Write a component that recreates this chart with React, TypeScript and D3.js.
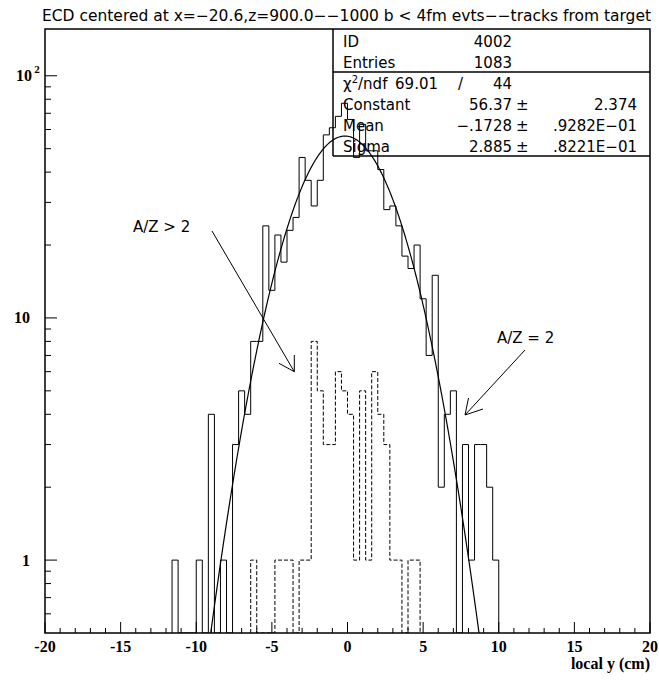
import React from 'react';
import * as d3 from 'd3';

// histogram bins: 0.4 cm wide, counts listed from the first filled bin
const binWidth = 0.4;
const solidStart = -11.6;
const solidCounts = [
  1, 0, 0, 0, 1, 0, 4, 0, 1, 0, 3, 5, 4, 8, 8, 24, 13, 22, 17, 23, 26, 46, 37, 29, 37, 57, 61, 68, 77,
  66, 46, 63, 49, 49, 41, 28, 29, 24, 18, 16, 20, 12, 7, 15, 2, 4, 5, 0, 3, 1, 3, 3, 2, 1,
];
const dashedStart = -6.4;
const dashedCounts = [
  1, 0, 0, 0, 1, 1, 1, 0, 1, 1, 8, 5, 3, 3, 6, 5, 4, 1, 5, 1, 6, 4, 3, 1, 1, 0, 1, 1,
];

// gaussian fit parameters (from the stats box)
const fitConstant = 56.37;
const fitMean = -0.1728;
const fitSigma = 2.885;

const xMajorTicks = [-20, -15, -10, -5, 0, 5, 10, 15, 20];
const statsRows = [
  { label: 'ID', value: '4002' },
  { label: 'Entries', value: '1083' },
];
const fitRows = [
  { label: 'Constant', value: '56.37', err: '2.374' },
  { label: 'Mean', value: '−.1728', err: '.9282E−01' },
  { label: 'Sigma', value: '2.885', err: '.8221E−01' },
];

const W = 659;
const H = 683;
const left = 45, right = 650, top = 29, bottom = 633;
const sans = '"DejaVu Sans", sans-serif';
const serif = '"Liberation Serif", "Times New Roman", serif';

function stepPath(start: number, counts: number[], x: any, y: any) {
  let d = `M${x(start)},${bottom}`;
  counts.forEach((c, i) => {
    const x0 = x(start + i * binWidth);
    const x1 = x(start + (i + 1) * binWidth);
    const yy = c > 0 ? y(c) : bottom;
    d += `L${x0},${yy}L${x1},${yy}`;
  });
  d += `L${x(start + counts.length * binWidth)},${bottom}`;
  return d;
}

export default function App() {
  const x = d3.scaleLinear().domain([-20, 20]).range([left, right]);
  const y = d3.scaleLog().domain([0.5, 156]).range([bottom, top]);

  const fitPts = d3.range(-20, 20.001, 0.05).map((v) => [
    v,
    fitConstant * Math.exp(-0.5 * ((v - fitMean) / fitSigma) ** 2),
  ]);
  const fitLine = d3
    .line<number[]>()
    .x((d) => x(d[0]))
    .y((d) => y(Math.max(d[1], 0.3)))(fitPts);

  const xMinor = d3.range(-20, 21, 1).filter((v) => v % 5 !== 0);
  const yMinor = [0.6, 0.7, 0.8, 0.9, 2, 3, 4, 5, 6, 7, 8, 9, 20, 30, 40, 50, 60, 70, 80, 90];
  const yMajor = [1, 10, 100];

  const boxL = 333, boxB = 156, boxDiv = 72;

  return (
    <svg width={W} height={H} style={{ position: 'absolute', left: 0, top: 0, background: '#fff' }}>
      <defs>
        <clipPath id="plotClip">
          <rect x={left} y={top} width={right - left} height={bottom - top} />
        </clipPath>
      </defs>

      <text x={42} y={20.5} fontFamily={sans} fontSize={15} textLength={609} lengthAdjust="spacingAndGlyphs">
        ECD centered at x=−20.6,z=900.0−−1000 b &lt; 4fm evts−−tracks from target
      </text>

      {/* histograms */}
      <g clipPath="url(#plotClip)" fill="none" stroke="#000" strokeWidth={1}>
        <path d={stepPath(solidStart, solidCounts, x, y)} />
        <path d={stepPath(dashedStart, dashedCounts, x, y)} strokeDasharray="4 2" />
        <path d={fitLine || ''} strokeWidth={1.2} />
      </g>

      {/* frame */}
      <rect x={left} y={top} width={right - left} height={bottom - top} fill="none" stroke="#000" strokeWidth={1.5} />

      {/* x ticks */}
      <g stroke="#000" strokeWidth={1}>
        {xMajorTicks.map((t) => (
          <line key={'xM' + t} x1={x(t)} x2={x(t)} y1={bottom} y2={bottom - 11} />
        ))}
        {xMinor.map((t) => (
          <line key={'xm' + t} x1={x(t)} x2={x(t)} y1={bottom} y2={bottom - 5} />
        ))}
        {yMajor.map((t) => (
          <line key={'yM' + t} x1={left} x2={left + 12} y1={y(t)} y2={y(t)} />
        ))}
        {yMinor.map((t) => (
          <line key={'ym' + t} x1={left} x2={left + 6} y1={y(t)} y2={y(t)} />
        ))}
      </g>

      <g fontFamily={serif} fontWeight="bold" fontSize={16} textAnchor="middle">
        {xMajorTicks.map((t) => (
          <text key={'xl' + t} x={x(t)} y={652}>
            {t}
          </text>
        ))}
        <text x={right} y={669} textAnchor="end">local y (cm)</text>
        <text x={30} y={y(1) + 5.5} textAnchor="end">1</text>
        <text x={30} y={y(10) + 5.5} textAnchor="end">10</text>
        <text x={32} y={y(100) + 5.5} textAnchor="end">10</text>
        <text x={37} y={y(100) - 3} fontSize={11}>2</text>
      </g>

      {/* stats box */}
      <g fill="none" stroke="#000" strokeWidth={1.5}>
        <line x1={boxL} x2={boxL} y1={top} y2={boxB} />
        <line x1={boxL} x2={right} y1={boxB} y2={boxB} />
        <line x1={boxL} x2={right} y1={boxDiv} y2={boxDiv} />
      </g>
      <g fontFamily={sans} fontSize={15} fill="#000">
        {statsRows.map((r, i) => (
          <g key={r.label}>
            <text x={343} y={46.5 + i * 21}>{r.label}</text>
            <text x={512} y={46.5 + i * 21} textAnchor="end">{r.value}</text>
          </g>
        ))}
        <text x={343} y={89}>
          χ<tspan dy={-6} fontSize={10}>2</tspan>
          <tspan dy={6}>/ndf</tspan>
        </text>
        <text x={438} y={89} textAnchor="end">69.01</text>
        <text x={458} y={89}>/</text>
        <text x={512} y={89} textAnchor="end">44</text>
        {fitRows.map((r, i) => (
          <g key={r.label}>
            <text x={343} y={110 + i * 21}>{r.label}</text>
            <text x={512} y={110 + i * 21} textAnchor="end">{r.value}</text>
            <text x={516} y={110 + i * 21}>±</text>
            <text x={637} y={110 + i * 21} textAnchor="end">{r.err}</text>
          </g>
        ))}
      </g>

      {/* annotations */}
      <g fontFamily={sans} fontSize={15}>
        <text x={133} y={232}>A/Z &gt; 2</text>
        <text x={497} y={343}>A/Z = 2</text>
      </g>
      <g fill="none" stroke="#000" strokeWidth={1}>
        <line x1={212} y1={231} x2={294.3} y2={371.7} />
        <polyline points="279,363.3 294.3,371.7 294.3,355" />
        <line x1={525} y1={350} x2={465} y2={415} />
        <polyline points="468.5,398 465,415 483,409" />
      </g>
    </svg>
  );
}
